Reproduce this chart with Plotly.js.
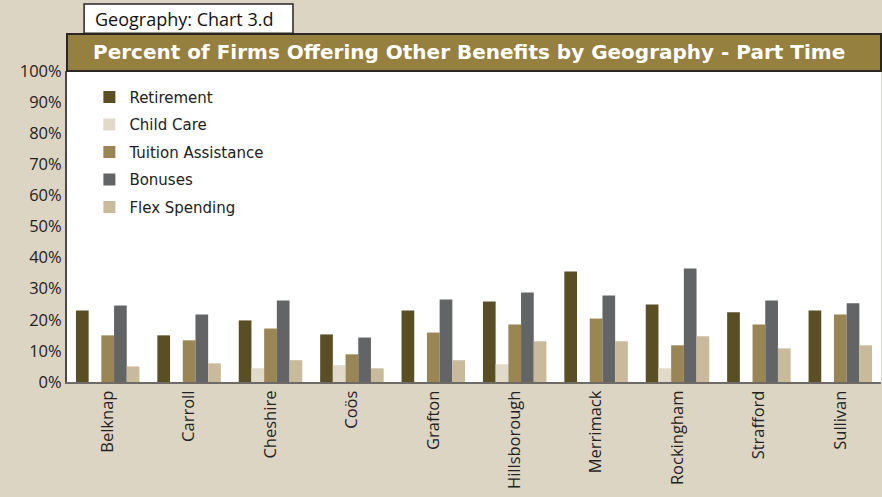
<!DOCTYPE html>
<html>
<head>
<meta charset="utf-8">
<script src="https://cdn.plot.ly/plotly-3.0.1.min.js"></script>
<style>html,body{margin:0;padding:0;background:#DDD5C4;}#chart{width:882px;height:497px;}</style>
</head>
<body>
<div id="chart"></div>
<script>
const categories = ["Belknap","Carroll","Cheshire","Coös","Grafton","Hillsborough","Merrimack","Rockingham","Strafford","Sullivan"];
const seriesNames = ["Retirement","Child Care","Tuition Assistance","Bonuses","Flex Spending"];
const retirement = [23.0, 15.0, 19.8, 15.3, 23.0, 25.9, 35.5, 24.9, 22.4, 23.0];
const childCare  = [0, 0, 4.4, 5.4, 0, 5.7, 0, 4.4, 0, 0];
const tuition    = [15.0, 13.4, 17.2, 8.9, 15.9, 18.5, 20.4, 11.8, 18.5, 21.7];
const bonuses    = [24.6, 21.7, 26.2, 14.3, 26.5, 28.8, 27.8, 36.5, 26.2, 25.3];
const flex       = [5.0, 6.0, 7.0, 4.4, 7.0, 13.1, 13.1, 14.7, 10.8, 11.8];
const yTickVals = [0,10,20,30,40,50,60,70,80,90,100];
const yTickText = ["0%","10%","20%","30%","40%","50%","60%","70%","80%","90%","100%"];
const chartTitle = "Percent of Firms Offering Other Benefits by Geography - Part Time";
const tabText = "Geography: Chart 3.d";

const colors = ["#5A4F24","#E1D9CA","#9A8655","#636466","#C8BA9B"];
const allSeries = [retirement, childCare, tuition, bonuses, flex];

const traces = allSeries.map((vals, i) => ({
  type: "bar",
  name: seriesNames[i],
  x: categories,
  y: vals,
  legendgroup: "g" + i,
  marker: {color: colors[i], line: {width: 0}},
  hoverinfo: "x+y+name"
}));

const layout = {
  width: 882, height: 497,
  paper_bgcolor: "#DDD5C4",
  plot_bgcolor: "#FFFFFF",
  margin: {l: 67, r: 1, t: 71, b: 115, pad: 0},
  barmode: "group",
  bargap: 0.22,
  bargroupgap: 0,
  showlegend: true,
  legend: {
    x: 0.0275, y: 0.969, xanchor: "left", yanchor: "top",
    bgcolor: "rgba(0,0,0,0)",
    font: {family: "DejaVu Sans", size: 15, color: "#222"},
    traceorder: "grouped",
    tracegroupgap: 5
  },
  xaxis: {
    type: "category",
    showline: true, linecolor: "#6E6B66", linewidth: 2,
    ticks: "", tickangle: -90,
    tickfont: {family: "Open Sans", size: 16.5, color: "#222"},
    showgrid: false, zeroline: false, fixedrange: true
  },
  yaxis: {
    range: [0, 100],
    tickvals: yTickVals, ticktext: yTickText,
    showline: true, linecolor: "#4A4845", linewidth: 2,
    ticks: "", ticklabelstandoff: 0,
    tickfont: {family: "Open Sans", size: 16.5, color: "#222"},
    showgrid: false, zeroline: false, fixedrange: true
  },
  shapes: [
    {type: "rect", xref: "paper", yref: "paper", x0: 0, x1: 1.0, y0: 1.0, y1: 1.119,
     fillcolor: "#968040", line: {color: "#2A2622", width: 2}, layer: "above"},
    {type: "rect", xref: "paper", yref: "paper", x0: 0.021, x1: 0.2776, y0: 1.121, y1: 1.2154,
     fillcolor: "#FFFFFF", line: {color: "#2A2622", width: 1.5}, layer: "above"}
  ],
  annotations: [
    {text: chartTitle, xref: "paper", yref: "paper", x: 0.494, y: 1.0595, xanchor: "center", yanchor: "middle",
     showarrow: false, font: {family: "DejaVu Sans", size: 20, color: "#FFFFFF", weight: "bold"}},
    {text: tabText, xref: "paper", yref: "paper", x: 0.144, y: 1.168, xanchor: "center", yanchor: "middle",
     showarrow: false, font: {family: "Open Sans", size: 18, color: "#111"}}
  ]
};

Plotly.newPlot("chart", traces, layout, {displayModeBar: false, staticPlot: true});
</script>
</body>
</html>
